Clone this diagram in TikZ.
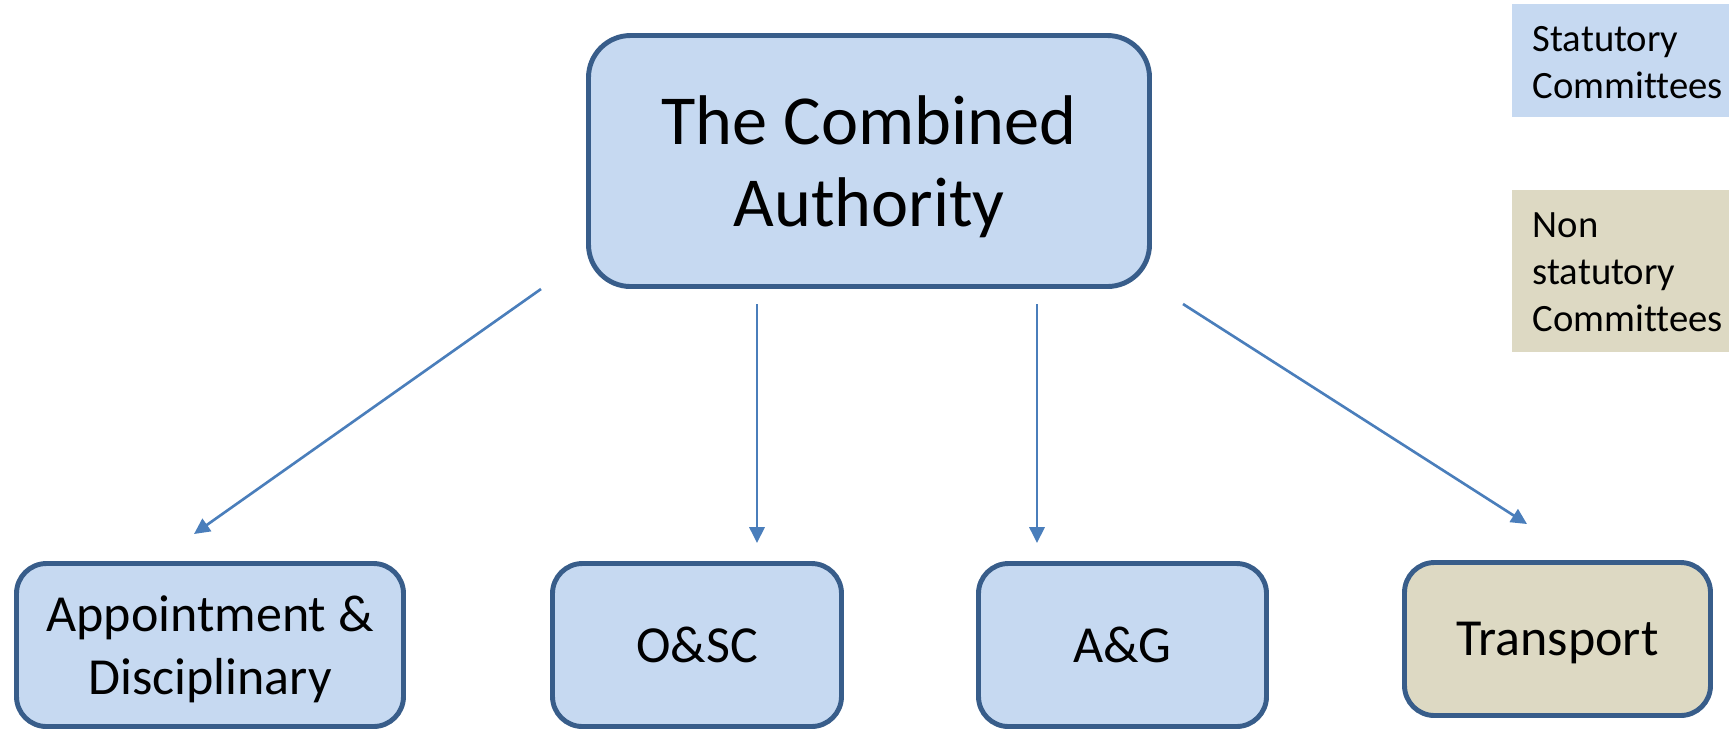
\documentclass[tikz,border=0pt]{standalone}
\usepackage{fontspec}
\setmainfont{Carlito}[Ligatures=NoCommon]
\usetikzlibrary{arrows.meta}
\definecolor{boxblue}{HTML}{C6D9F1}
\definecolor{boxtan}{HTML}{DDD9C3}
\definecolor{boxline}{HTML}{385D8A}
\definecolor{arrowblue}{HTML}{4A7EBB}

\begin{document}
\begin{tikzpicture}[
	committee/.style={draw=boxline,line width=1.4pt,fill=boxblue,rounded corners=.3cm,align=center,text depth=0pt,minimum height=1.63cm,font=\fontsize{14.8}{17.8}\selectfont},
	link/.style={draw=arrowblue,line width=.75pt,-{Triangle[length=4.5pt,width=4.3pt]}},
	legendtext/.style={anchor=north west,inner sep=0pt,align=left,font=\fontsize{11}{13.4}\selectfont}]
	\useasboundingbox (0,0) rectangle (17.29,-7.32);
	% legend
	\fill[boxblue] (15.12,-.04) rectangle (17.29,-1.17);
	\fill[boxtan] (15.12,-1.90) rectangle (17.29,-3.52);
	\node[legendtext] (stat) at (15.32,-.26) {Statutory\\Committees};
	\node[legendtext] (nonstat) at (15.32,-2.12) {Non\\statutory\\Committees};
	% boxes
	\node[committee,rounded corners=.42cm,minimum width=5.61cm,minimum height=2.51cm,font=\fontsize{20}{23.2}\selectfont] (ca) at (8.69,-1.61) {The Combined\\Authority};
	\node[committee,minimum width=3.87cm] (appt) at (2.10,-6.45) {Appointment \&\\Disciplinary};
	\node[committee,minimum width=2.89cm] (osc) at (6.97,-6.45) {O\&SC};
	\node[committee,minimum width=2.88cm] (ag) at (11.225,-6.45) {A\&G};
	\node[committee,fill=boxtan,minimum width=3.06cm,minimum height=1.53cm] (transport) at (15.575,-6.39) {Transport};
	% arrows
	\coordinate (ca1) at (5.41,-2.89);
	\coordinate (ca2) at (7.57,-3.04);
	\coordinate (ca3) at (10.37,-3.04);
	\coordinate (ca4) at (11.83,-3.04);
	\coordinate (appt in) at (1.94,-5.34);
	\coordinate (osc in) at (7.57,-5.43);
	\coordinate (ag in) at (10.37,-5.43);
	\coordinate (transport in) at (15.27,-5.24);
	\draw[link] (ca1) -- (appt in);
	\draw[link] (ca2) -- (osc in);
	\draw[link] (ca3) -- (ag in);
	\draw[link] (ca4) -- (transport in);
\end{tikzpicture}
\end{document}
